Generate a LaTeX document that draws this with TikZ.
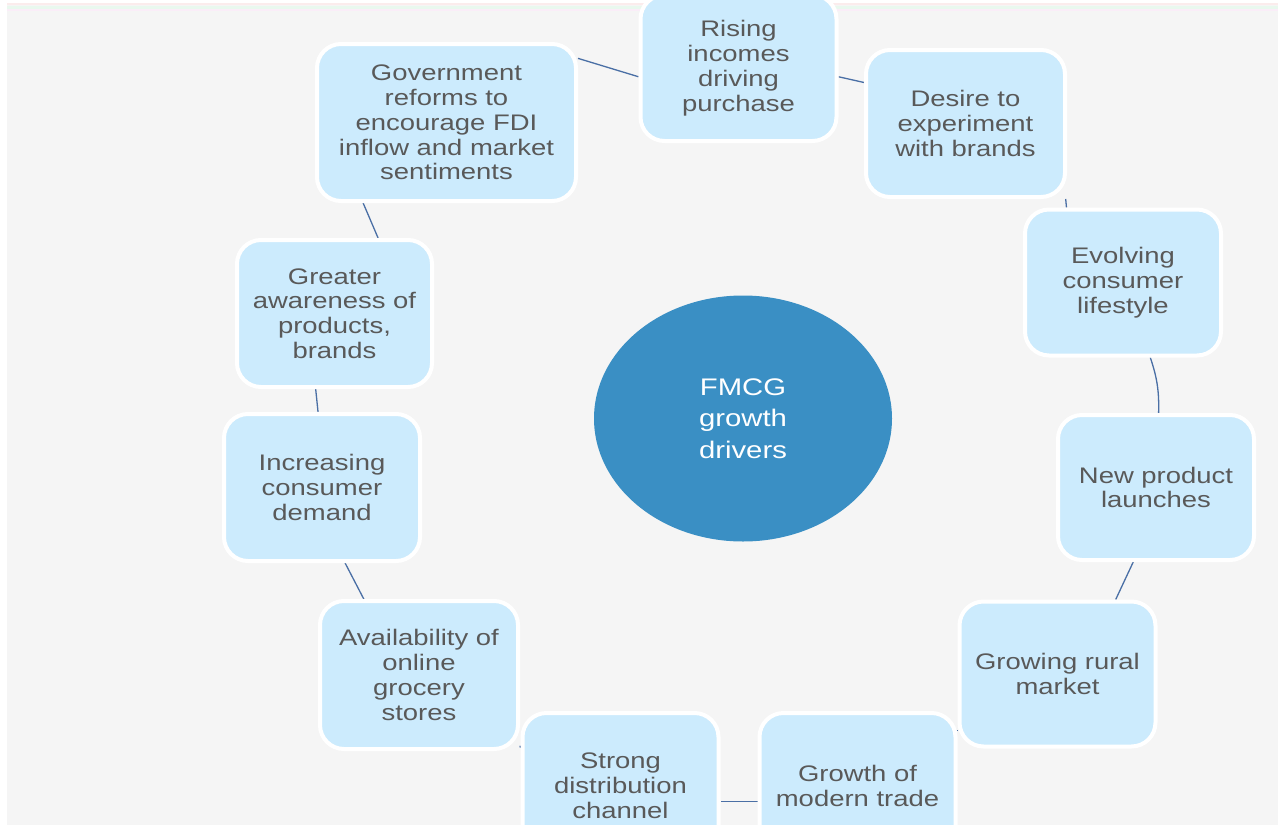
\documentclass[tikz,border=0pt]{standalone}
\usepackage{fontspec}
\setmainfont{Liberation Sans}[FakeStretch=1.22]
\usetikzlibrary{shapes.geometric}
\pgfdeclarelayer{base}
\pgfdeclarelayer{links}
\pgfsetlayers{base,links,main}
\definecolor{bggray}{HTML}{F5F5F5}
\definecolor{boxblue}{HTML}{CCEBFD}
\definecolor{hubblue}{HTML}{3A8FC4}
\definecolor{txtgray}{HTML}{595959}
\definecolor{linkblue}{HTML}{4A6FA5}
\definecolor{stripeA}{HTML}{FBECEC}
\definecolor{stripeB}{HTML}{E9F8EE}
\definecolor{stripeC}{HTML}{FAEDF8}
\tikzset{
  driver/.style={draw=white, line width=4pt, fill=boxblue, rounded corners=24pt,
    minimum width=196pt, minimum height=146pt, inner sep=0pt, align=center,
    text=txtgray, font=\fontsize{22.5}{24.8}\selectfont},
  hub/.style={ellipse, fill=hubblue, minimum width=298pt, minimum height=246pt,
    inner sep=0pt, align=center, text=white, font=\fontsize{24}{31.7}\selectfont},
  link/.style={draw=linkblue, line width=1.3pt}
}
\begin{document}
\begin{tikzpicture}[x=1pt, y=-1pt]
\useasboundingbox (0,0) rectangle (1278,825);
\clip (0,0) rectangle (1278,825);
\begin{pgfonlayer}{base}
\fill[bggray] (7,3) rectangle (1278,825);
\fill[stripeA] (7,3) rectangle (1278,5);
\fill[stripeB] (7,6) rectangle (1278,8.5);
\fill[stripeC] (7,9) rectangle (1278,11);
\end{pgfonlayer}

\node[hub] (hub) at (743,418.5) {FMCG\\growth\\drivers};

\node[driver] (rising) at (738.5,68) {Rising\\incomes\\driving\\purchase};
\node[driver, minimum width=199pt, minimum height=147pt] (desire) at (965.5,123.5) {Desire to\\experiment\\with brands};
\node[driver] (evolving) at (1123,282.5) {Evolving\\consumer\\lifestyle};
\node[driver, minimum height=145pt] (newprod) at (1156,487.5) {New product\\launches};
\node[driver, minimum height=145pt] (rural) at (1057.5,674) {Growing rural\\market};
\node[driver] (modern) at (857.5,786) {Growth of\\modern trade};
\node[driver] (strong) at (620.5,786) {Strong\\distribution\\channel};
\node[driver, minimum width=198pt, minimum height=148pt] (online) at (419,675) {Availability of\\online\\grocery\\stores};
\node[driver, minimum height=147pt] (demand) at (322,487.5) {Increasing\\consumer\\demand};
\node[driver, minimum width=195pt, minimum height=147pt] (aware) at (334.5,313.5) {Greater\\awareness of\\products,\\brands};
\node[driver, minimum width=259pt, minimum height=157pt] (gov) at (446.5,122.5) {Government\\reforms to\\encourage FDI\\inflow and market\\sentiments};

\begin{pgfonlayer}{links}
\draw[link] (rising.-5) -- (desire.158.2);
\draw[link] (desire.-37.2) -- (evolving.127);
\draw[link] (evolving.-70.8) to[bend left=10] (newprod.88.6);
\draw[link] (newprod.-107.6) -- (rural.52.3);
\draw[link] (rural) -- (modern);
\draw[link] (modern.189.2) -- (strong.-9.1);
\draw[link] (strong.159) -- (online.-35.6);
\draw[link] (online.126.6) -- (demand.-73.7);
\draw[link] (demand.93) -- (aware.256.9);
\draw[link] (aware.60.6) -- (gov.224.3);
\draw[link] (gov.26.5) -- (rising.185.6);
\end{pgfonlayer}
\end{tikzpicture}
\end{document}
